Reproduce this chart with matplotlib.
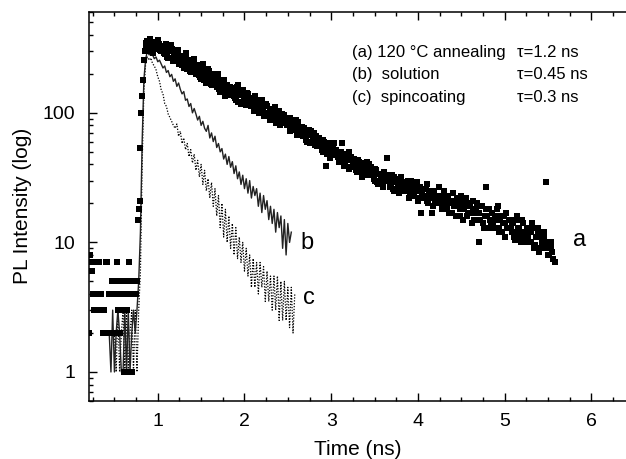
import numpy as np
import matplotlib
matplotlib.use("Agg")
import matplotlib.pyplot as plt
from matplotlib.ticker import LogLocator, MultipleLocator, FixedLocator, NullFormatter

plt.rcParams['font.family'] = ['Liberation Sans', 'DejaVu Sans']

# ---------------- data ----------------
# series a (120 C annealing), pre-rise + rise, sampled every 0.01 ns from 0.20 ns
a_pre_t0, a_pre_dt = 0.20, 0.01
a_pre_vals = [2, 2, 8, 7, 6, 4, 3, 4, 3, 7,
              4, 3, 7, 4, 3, 4, 3, 2, 3, 2,
              7, 2, 7, 2, 4, 2, 4, 5, 2, 4,
              5, 2, 4, 7, 3, 5, 2, 3, 5, 4,
              3, 1, 5, 4, 1, 3, 4, 7, 1, 5,
              1, 4, 5, 4, 5, 4, 5, 15, 18, 21,
              54, 100, 135, 180, 255, 300]
# series a decay, even channels (every 0.02 ns from 0.86 ns)
a_t0, a_dt = 0.86, 0.02
a_vals = [325, 360, 340, 300, 355, 335, 310, 365, 320, 298,
          325, 285, 340, 265, 305, 310, 250, 298, 275, 240,
          275, 235, 222, 290, 218, 255, 208, 242, 262, 200,
          232, 195, 182, 238, 208, 170, 218, 180, 165, 200,
          188, 158, 198, 145, 170, 180, 136, 165, 150, 142,
          155, 135, 125, 165, 142, 118, 150, 130, 114, 140,
          128, 112, 120, 134, 105, 118, 108, 125, 98, 112,
          112, 98, 88, 106, 100, 84, 95, 104, 86, 92,
          96, 84, 80, 92, 74, 86, 78, 70, 85, 76,
          78, 66, 72, 60, 74, 68, 58, 70, 63, 55,
          64, 56, 50, 60, 39, 58, 52, 47, 56, 50,
          52, 46, 42, 59, 48, 40, 45, 50, 38, 44,
          44, 39, 35, 42, 37, 33, 41, 38, 34, 40,
          38, 33, 30, 36, 28, 34, 31, 27, 33, 45,
          30, 27, 33, 25, 31, 29, 24, 32, 26, 28,
          29, 25, 22, 30, 26, 24, 28, 21, 27, 17,
          26, 22, 28, 20, 24, 17, 25, 21, 23, 27,
          22, 18, 25, 20, 23, 17, 21, 24, 19, 16,
          21, 18, 23, 15, 19, 22, 17, 20, 14, 18,
          17, 20, 10, 15, 19, 13, 27, 16, 18, 14,
          17, 13, 15, 19, 12, 16, 14, 11, 17, 13,
          15, 12, 14, 10.5, 16, 13, 11, 15, 12, 10,
          13, 10, 12, 14, 9, 11, 13, 8.5, 11, 10,
          12, 29, 8, 10, 9, 7.5, 7]
# series a decay, odd channels (every 0.02 ns from 0.87 ns)
a2_t0, a2_dt = 0.87, 0.02
a2_vals = [345, 310, 370, 330, 290, 350, 318, 340, 305, 330,
           290, 320, 270, 300, 335, 260, 288, 270, 305, 255,
           245, 270, 228, 260, 240, 212, 248, 225, 205, 230,
           215, 190, 225, 178, 200, 188, 210, 168, 190, 176,
           170, 185, 152, 165, 172, 148, 160, 138, 158, 150,
           145, 130, 158, 122, 138, 148, 120, 132, 142, 115,
           120, 130, 104, 115, 126, 100, 116, 106, 95, 118,
           100, 108, 94, 90, 110, 88, 96, 80, 98, 85,
           88, 80, 90, 72, 82, 76, 88, 68, 78, 72,
           70, 76, 62, 68, 58, 72, 64, 56, 66, 60,
           58, 52, 62, 54, 48, 56, 45, 52, 58, 47,
           48, 42, 50, 44, 39, 47, 43, 37, 46, 41,
           40, 36, 43, 38, 32, 39, 36, 42, 33, 37,
           35, 31, 37, 29, 34, 32, 28, 35, 30, 33,
           31, 28, 26, 32, 29, 27, 30, 25, 29, 26,
           27, 30, 24, 28, 23, 26, 29, 22, 25, 24,
           23, 26, 21, 25, 22, 19, 24, 22, 20, 23,
           20, 23, 21, 18, 22, 20, 17, 21, 19, 22,
           19, 16, 21, 18, 20, 16, 19, 17, 21, 15,
           18, 15, 17, 19, 14, 16, 18, 13, 15, 17,
           14, 16, 18, 13, 15, 12, 16, 14, 13, 15,
           13, 14, 11, 15, 12, 13, 10, 14, 11, 12,
           11, 12, 10, 13, 9.5, 11, 12, 9, 10, 11,
           9, 10, 8, 10, 8.5]

# series b (solution), every 0.02 ns from 0.44 ns
b_t0, b_dt = 0.44, 0.02
b_vals = [2, 1, 3, 1, 2, 3, 2, 1, 1, 3,
          1, 3, 1, 2, 3, 2, 3, 5, 12, 60,
          180, 260, 300, 280, 295,
          280, 262, 270, 248, 255, 238, 222, 230, 205, 212,
          190, 198, 175, 183, 160, 170, 152, 140, 146, 125,
          128, 112, 118, 100, 108, 98, 88, 94, 80, 86,
          76, 72, 80, 64, 70, 60, 66, 54, 58, 50,
          53, 44, 48, 40, 46, 38, 42, 34, 39, 31,
          35, 28, 33, 26, 31, 24, 30, 22, 27, 23,
          26, 19, 24, 17, 23, 18, 21, 15, 19, 14,
          18, 12, 17, 13, 16, 9, 15, 8, 14, 10, 12]

# series c (spincoating), every 0.02 ns from 0.50 ns
c_t0, c_dt = 0.50, 0.02
c_vals = [2, 1, 3, 1, 2, 3, 1, 3, 1, 2,
          3, 1, 3, 1, 3, 6, 40, 150, 240, 270, 255,
          265, 240, 230, 215, 190, 175, 150, 140, 118, 112,
          98, 92, 86, 80, 76, 82, 66, 72, 58, 64,
          52, 58, 46, 52, 41, 48, 36, 43, 32, 40,
          28, 36, 25, 31, 22, 29, 19, 26, 16, 23,
          13, 20, 11, 18, 10, 16, 9, 14, 8, 13,
          7.5, 11, 7, 10, 6, 9, 5.5, 8, 4.5, 7.5,
          4.5, 7, 4, 7, 4.5, 6.5, 3.5, 6, 3.5, 5.5,
          3, 5.5, 3, 5.5, 2.5, 5, 2.5, 5, 2.5, 4.5,
          2.2, 4.5, 2, 4]

legend_rows = [("(a) 120 \u00b0C annealing", "\u03c4=1.2 ns"),
               ("(b)  solution", "\u03c4=0.45 ns"),
               ("(c)  spincoating", "\u03c4=0.3 ns")]
curve_labels = ["a", "b", "c"]
curve_label_pos = [(5.86, 10.4), (2.72, 9.9), (2.745, 3.7)]

x_ticks = [1, 2, 3, 4, 5, 6]
y_ticks = [1, 10, 100]

# ---------------- plotting ----------------
def grid(t0, dt, vals):
    return t0 + dt * np.arange(len(vals))

fig = plt.figure(figsize=(6.26, 4.59), dpi=100)
ax = fig.add_axes([0.1426, 0.1270, 0.8574, 0.8468])

ax.plot(grid(c_t0, c_dt, c_vals), c_vals, color='black', lw=0.9,
        linestyle=(0, (1, 1.3)))
ax.plot(grid(b_t0, b_dt, b_vals), b_vals, color='#222222', lw=1.0)
ax.plot(grid(a_pre_t0, a_pre_dt, a_pre_vals), a_pre_vals, 's', color='black',
        ms=4.3, mew=0)
ax.plot(grid(a_t0, a_dt, a_vals), a_vals, 's', color='black', ms=4.3, mew=0)
ax.plot(grid(a2_t0, a2_dt, a2_vals), a2_vals, 's', color='black', ms=4.3, mew=0)

ax.set_yscale('log')
ax.set_xlim(0.21, 6.40)
ax.set_ylim(0.6, 600)

ax.xaxis.set_major_locator(FixedLocator(x_ticks))
ax.xaxis.set_minor_locator(MultipleLocator(0.25))
ax.yaxis.set_major_locator(FixedLocator(y_ticks))
ax.yaxis.set_minor_locator(LogLocator(base=10, subs=np.arange(2, 10)))
ax.yaxis.set_minor_formatter(NullFormatter())
ax.set_yticklabels([str(v) for v in y_ticks])
ax.set_xticklabels([str(v) for v in x_ticks])

ax.spines['right'].set_visible(False)
for s in ['left', 'bottom', 'top']:
    ax.spines[s].set_linewidth(1.1)

ax.tick_params(axis='x', which='both', direction='in', top=True, bottom=True,
               labelsize=14, pad=9, width=1)
ax.tick_params(axis='x', which='major', length=6)
ax.tick_params(axis='x', which='minor', length=3)
ax.tick_params(axis='y', which='both', direction='in', right=False,
               labelsize=14, pad=10, width=1)
ax.tick_params(axis='y', which='major', length=5.5)
ax.tick_params(axis='y', which='minor', length=3)

ax.set_xlabel("Time (ns)", fontsize=15, labelpad=7)
ax.set_ylabel("PL Intensity (log)", fontsize=15, labelpad=8)

ys = [0.897, 0.838, 0.781]
for (left, right), y in zip(legend_rows, ys):
    ax.text(0.4895, y, left, transform=ax.transAxes, fontsize=12, va='center', ha='left')
    ax.text(0.7966, y, right, transform=ax.transAxes, fontsize=12, va='center', ha='left')

for lab, (x, y) in zip(curve_labels, curve_label_pos):
    ax.text(x, y, lab, fontsize=17, ha='center', va='center')

fig.savefig("out.png", dpi=100)
